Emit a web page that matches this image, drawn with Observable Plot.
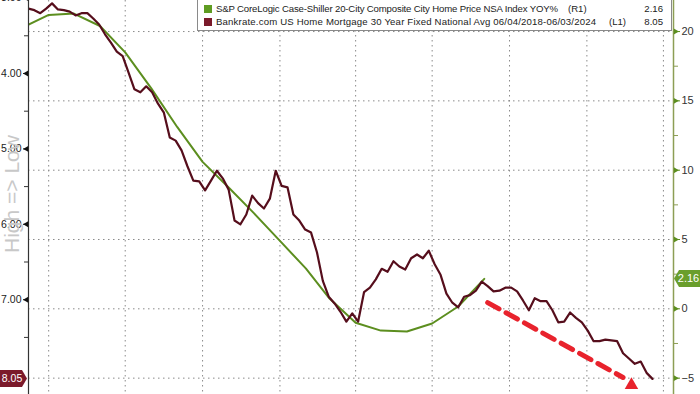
<!DOCTYPE html>
<html><head><meta charset="utf-8">
<script src="https://cdn.jsdelivr.net/npm/d3@7"></script>
<script src="https://cdn.jsdelivr.net/npm/@observablehq/plot@0.6"></script>
<style>
body{margin:0;background:#fff;font-family:"Liberation Sans",Arial,sans-serif;}
#wrap{position:relative;width:700px;height:394px;overflow:hidden;background:#fff;}
.legend{position:absolute;left:197px;top:-1px;width:475px;height:32px;border:1px solid #8a8a8a;background:#fff;box-sizing:border-box;font-size:9.6px;color:#222;}
.legend .row{position:absolute;left:0;width:100%;height:13px;line-height:13px;}
.sq{position:absolute;left:6px;top:2.5px;width:8px;height:8px;}
.name{position:absolute;left:18px;white-space:nowrap;}
.tag{position:absolute;white-space:nowrap;}
.val{position:absolute;right:8px;}
.ylab{position:absolute;left:12px;top:194px;transform:translate(-50%,-50%) rotate(-90deg);font-size:21px;color:#c8c8c8;white-space:nowrap;}
</style></head>
<body>
<div id="wrap">
  <div id="chart"></div>
  <div class="ylab">High =&gt; Low</div>
  <div class="legend">
    <div class="row" style="top:2px"><span class="sq" style="background:#5f9c22"></span><span class="name" id="n1" style="letter-spacing:-0.15px"></span><span class="tag" style="left:370px">(R1)</span><span class="val" id="v1"></span></div>
    <div class="row" style="top:15px"><span class="sq" style="background:#7a1a2a"></span><span class="name" id="n2" style="letter-spacing:0.18px"></span><span class="tag" style="left:411px">(L1)</span><span class="val" id="v2"></span></div>
  </div>
</div>
<script>
// ---- data ----
const seriesNames = [
  "S&P CoreLogic Case-Shiller 20-City Composite City Home Price NSA Index YOY%",
  "Bankrate.com US Home Mortgage 30 Year Fixed National Avg 06/04/2018-06/03/2024"
];
// Case-Shiller YoY % (right axis), month-end observations
const csDates = ["2022-02-28","2022-03-31","2022-04-30","2022-05-31","2022-06-30","2022-07-31","2022-08-31","2022-09-30","2022-10-31","2022-11-30","2022-12-31","2023-01-31","2023-02-28","2023-03-31","2023-04-30","2023-05-31","2023-06-30","2023-07-31","2023-08-31"];
const csValues = [20.3, 21.2, 21.3, 20.4, 18.5, 15.9, 13.1, 10.6, 8.75, 6.9, 4.9, 2.9, 0.74, -1.0, -1.57, -1.63, -1.06, 0.17, 2.16];
// Mortgage rate % (left axis, inverted), weekly observations
const mortStart = "2022-03-07";
const mortStepDays = 7;
const mortValues = [
 3.14, 3.16, 3.20, 3.14, 3.07, 3.15, 3.16, 3.18, 3.23, 3.20,
 3.20, 3.27, 3.35, 3.48, 3.59, 3.71, 3.77, 3.99, 4.21, 4.25,
 4.17, 4.25, 4.40, 4.52, 4.85, 4.89, 5.02, 5.23, 5.42, 5.43,
 5.55, 5.42, 5.29, 5.39, 5.54, 5.95, 6.00, 5.87, 5.62, 5.72,
 5.79, 5.66, 5.29, 5.49, 5.51, 5.87, 5.95, 6.07, 6.11, 6.37,
 6.75, 6.96, 7.05, 7.16, 7.29, 7.18, 7.29, 6.90, 6.84, 6.73,
 6.59, 6.63, 6.49, 6.56, 6.60, 6.45, 6.40, 6.45, 6.35, 6.53,
 6.67, 6.92, 7.04, 7.10, 6.96, 6.94, 6.88, 6.76, 6.82, 6.89,
 6.88, 6.84, 6.84, 6.89, 7.01, 7.14, 6.98, 7.02, 7.02, 7.14,
 7.30, 7.29, 7.17, 7.24, 7.30, 7.41, 7.55, 7.55, 7.53, 7.54,
 7.55, 7.71, 7.78, 7.85, 7.82, 7.97, 8.05];
// axes
const xDomain = ["2022-03-07", "2024-04-12"];
const gridDates = ["2022-03-31","2022-06-30","2022-09-30","2022-12-31","2023-03-31","2023-06-30","2023-09-30","2023-12-31","2024-03-31"];
const rightDomain = [-6.18, 22.24];      // right axis (YoY %)
const leftDomain = [8.257, 3.032];        // left axis (rate %, inverted)
const rightTicks = [20, 15, 10, 5, 0, -5];
const rightMinor = [17.5, 12.5, 7.5, 2.5, -2.5];
const leftTicks = [3, 4, 5, 6, 7];
const leftMinor = [3.5, 4.5, 5.5, 6.5, 7.5];
// annotation arrow (right-axis units)
const arrowDates = ["2023-09-04", "2024-02-12"];
const arrowValues = [0.45, -4.95];
const arrowHeadDate = "2024-02-22";
const arrowHeadValue = -5.5;

// ---- build ----
const GREEN = "#5c8e1f", MAROON = "#560e1c", RED = "#e8232d", AXISG = "#8d9e55";
const rateToV = r => rightDomain[0] + (r - leftDomain[0]) / (leftDomain[1] - leftDomain[0]) * (rightDomain[1] - rightDomain[0]);
const vToRate = v => leftDomain[0] + (v - rightDomain[0]) / (rightDomain[1] - rightDomain[0]) * (leftDomain[1] - leftDomain[0]);
const cs = csDates.map((d, i) => ({date: new Date(d), value: csValues[i]}));
const mort = mortValues.map((r, i) => ({date: d3.utcDay.offset(new Date(mortStart), i * mortStepDays), rate: r}));
const arrowLine = arrowDates.map((d, i) => ({date: new Date(d), value: arrowValues[i]}));
const arrowHead = [{date: new Date(arrowHeadDate), value: arrowHeadValue}];
const xd = xDomain.map(d => new Date(d));

const chart = Plot.plot({
  width: 700, height: 394,
  marginLeft: 28, marginRight: 27, marginTop: 0, marginBottom: 0,
  style: {fontFamily: "Liberation Sans, Arial, sans-serif", fontSize: "10px", background: "#fff", color: "#222"},
  x: {type: "utc", domain: xd, axis: null},
  y: {domain: rightDomain, axis: null},
  marks: [
    Plot.gridY(rightTicks, {stroke: "#8a8a8a", strokeOpacity: 1, strokeDasharray: "1.5,3.5"}),
    Plot.gridX(gridDates.map(d => new Date(d)), {stroke: "#8a8a8a", strokeOpacity: 1, strokeDasharray: "1.5,3.5"}),
    Plot.line(cs, {x: "date", y: "value", stroke: GREEN, strokeWidth: 2, clip: true}),
    Plot.line(mort, {x: "date", y: d => rateToV(d.rate), stroke: MAROON, strokeWidth: 2.2, clip: true}),
    Plot.line(arrowLine, {x: "date", y: "value", stroke: RED, strokeWidth: 5, strokeDasharray: "13,8"}),
    Plot.dot(arrowHead, {x: "date", y: "value", symbol: "triangle", r: 5, fill: RED, stroke: null}),
    Plot.ruleX([xd[0]], {stroke: "#333", strokeWidth: 1.2}),
    Plot.ruleX([xd[1]], {stroke: AXISG, strokeWidth: 1.5}),
    Plot.axisY(rightTicks, {anchor: "right", tickSize: 6, tickPadding: 2, fontSize: 11, stroke: GREEN, fill: "#333", label: null}),
    Plot.axisY(rightMinor, {anchor: "right", tickSize: 4, tickFormat: () => "", stroke: AXISG, label: null}),
    Plot.dot(rightTicks, {y: d => d, frameAnchor: "right", symbol: "triangle", rotate: 90, r: 2.2, fill: GREEN, dx: 2}),
    Plot.axisY(leftTicks.map(rateToV), {anchor: "left", tickSize: 5, tickPadding: 2, fontSize: 10.5, stroke: "#222", fill: "#222", tickFormat: v => vToRate(v).toFixed(2), label: null}),
    Plot.axisY(leftMinor.map(rateToV), {anchor: "left", tickSize: 4, tickFormat: () => "", stroke: "#333", label: null}),
    Plot.dot(leftTicks.map(rateToV), {y: d => d, frameAnchor: "left", symbol: "triangle", rotate: -90, r: 2.2, fill: "#111", dx: -2})
  ]
});
document.getElementById("chart").appendChild(chart);

// value labels on axes
const ys = chart.scale("y"), xs = chart.scale("x");
const svg = d3.select(chart);
const lastRate = mortValues[mortValues.length - 1];
const lastCS = csValues[csValues.length - 1];
const yl = ys.apply(rateToV(lastRate));
const xl = xs.apply(xd[0]);
svg.append("path").attr("d", `M0,${yl-8.5}H${xl-6}L${xl-1},${yl}L${xl-6},${yl+8.5}H0Z`).attr("fill", "#7b1a2b");
svg.append("text").attr("x", (xl-4)/2).attr("y", yl).attr("dy", "0.35em").attr("text-anchor", "middle")
  .attr("fill", "#fff").attr("font-size", 10.5).text(lastRate.toFixed(2));
const yr = ys.apply(lastCS);
const xr = xs.apply(xd[1]);
svg.append("path").attr("d", `M${xr+1},${yr}L${xr+6},${yr-8.5}H700V${yr+8.5}H${xr+6}Z`).attr("fill", "#6a9e2c");
svg.append("text").attr("x", (xr+4+700)/2).attr("y", yr).attr("dy", "0.35em").attr("text-anchor", "middle")
  .attr("fill", "#fff").attr("font-size", 11).text(lastCS.toFixed(2));

// legend text
document.getElementById("n1").textContent = seriesNames[0];
document.getElementById("n2").textContent = seriesNames[1];
document.getElementById("v1").textContent = lastCS.toFixed(2);
document.getElementById("v2").textContent = lastRate.toFixed(2);
</script>
</body></html>
